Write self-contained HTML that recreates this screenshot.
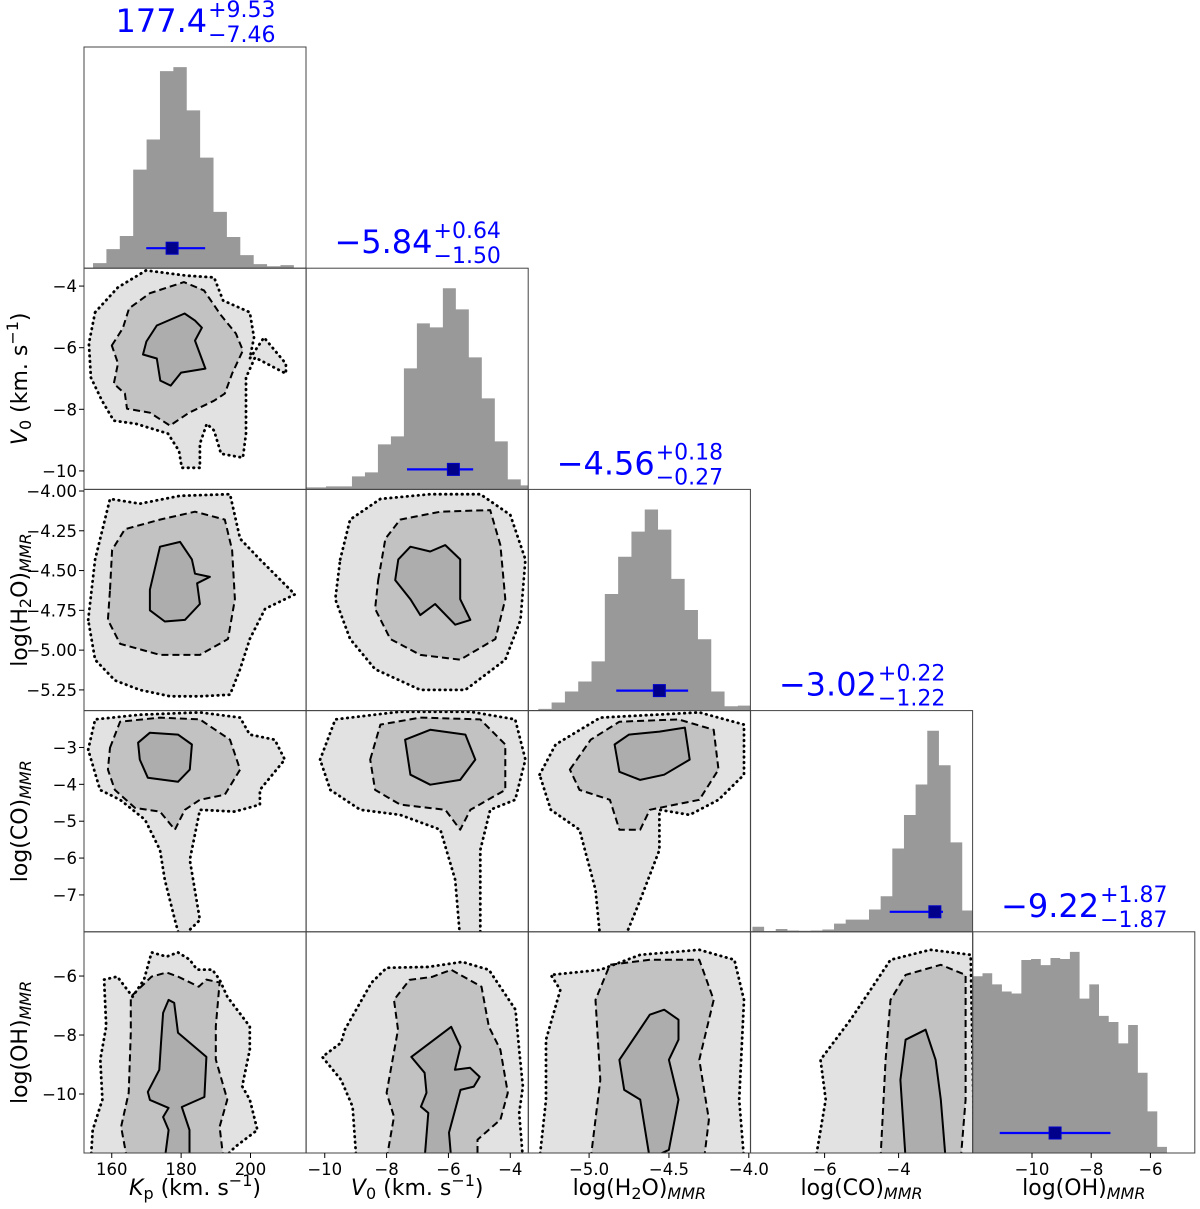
<!DOCTYPE html>
<html><head><meta charset="utf-8"><style>
html,body{margin:0;padding:0;background:#fff;}
svg{display:block;font-family:"DejaVu Sans","Liberation Sans",sans-serif;}
</style></head><body>
<svg id="fig" width="1200" height="1209" viewBox="0 0 1200 1209" xmlns="http://www.w3.org/2000/svg"></svg>
<script>
// ---------- data ----------
const varNames = ["Kp","V0","H2O","CO","OH"];
const rangeKp = [152, 216];
const rangeV0 = [-10.6, -3.42];
const rangeH2O = [-5.38, -3.99];
const rangeCO = [-8, -2];
const rangeOH = [-12, -4.5];

const medians = [177.4, -5.84, -4.56, -3.02, -9.22];
const errPlus = [9.53, 0.64, 0.18, 0.22, 1.87];
const errMinus = [7.46, 1.50, 0.27, 1.22, 1.87];
const titleMain = ["177.4", "\u22125.84", "\u22124.56", "\u22123.02", "\u22129.22"];
const titlePlus = ["+9.53", "+0.64", "+0.18", "+0.22", "+1.87"];
const titleMinus = ["\u22127.46", "\u22121.50", "\u22120.27", "\u22121.22", "\u22121.87"];

const histStart = [154.6, -10.8, -5.318, -7.95, -12.0];
const histWidth = [3.86, 0.42, 0.0833, 0.315, 0.328];
const histKp = [5,19,32,98,128,196,200,157,110,56,31,13,4,2,3];
const histV0 = [2,2,3,3,13,17,45,53,121,166,162,201,180,132,91,48,10,4];
const histH2O = [1.7,8,19,29,49,116,153,178,200,180,131,100,71,19,4.3,5];
const histCO = [5,0.7,2.7,1.3,1,1.3,2.3,8,12,12,22,35,82,115,145,198,164,88,21];
const histOH = [174,177,166,159,157,190,191,185,192,191,198,152,166,135,129,108,126,79,41,6];

const ticksKp = [160,180,200];
const ticksV0 = [-10,-8,-6,-4];
const ticksH2Ox = [-5.0,-4.5,-4.0];
const ticksH2Oy = [-4.00,-4.25,-4.50,-4.75,-5.00,-5.25];
const ticksCOx = [-6,-4];
const ticksCOy = [-3,-4,-5,-6,-7];
const ticksOH = [-10,-8,-6];

// contours [x,y] in data units
const c10Solid = [[169,-6.22],[170,-5.8],[173,-5.28],[181,-4.89],[184,-5.12],[186,-5.35],[184,-5.77],[187,-6.68],[180,-6.81],[177,-7.23],[174,-7.07],[173,-6.35]];
const c10Dashed = [[160,-5.93],[163.2,-5.37],[165,-4.72],[171,-4.23],[180.8,-3.87],[186.6,-4.14],[191.5,-4.95],[195.8,-5.54],[197.8,-6.09],[194.7,-6.84],[192.6,-7.49],[189.5,-7.72],[182.3,-8.11],[176.8,-8.53],[171,-8.11],[164.4,-7.98],[163.8,-7.49],[160.6,-7.17],[161.8,-6.51]];
const c10Dotted = [[155.2,-4.85],[161.8,-4.04],[169.9,-3.49],[181.4,-3.66],[189.5,-3.72],[192.1,-4.47],[199.8,-4.85],[201,-5.67],[199.8,-6.35],[203.9,-5.67],[210.2,-6.52],[210.2,-6.84],[201.3,-6.32],[198.7,-6.97],[198.7,-8.79],[197.8,-9.57],[191.5,-9.44],[189.5,-8.69],[187.4,-8.47],[185.4,-9.12],[185.4,-9.9],[180.2,-9.9],[179.4,-9.35],[176.2,-8.79],[167,-8.47],[160.6,-8.37],[157.2,-7.72],[154,-6.97],[153.4,-5.86]];

const c20Solid = [[171,-4.62],[173.9,-4.35],[179.7,-4.32],[183.1,-4.43],[184,-4.52],[188.3,-4.54],[184.6,-4.58],[185.4,-4.71],[181.1,-4.81],[175.3,-4.82],[171,-4.75]];
const c20Dashed = [[159.5,-4.62],[160.1,-4.37],[163.8,-4.24],[173.9,-4.18],[184,-4.13],[192.6,-4.18],[194.7,-4.37],[195.5,-4.68],[193.5,-4.93],[185.4,-5.03],[173.9,-5.03],[162.4,-4.96],[158.9,-4.81]];
const c20Dotted = [[153.2,-4.81],[155.2,-4.43],[159.5,-4.05],[168.1,-4.08],[179.7,-4.03],[194.1,-4.02],[197,-4.3],[202.7,-4.43],[212.8,-4.65],[204.2,-4.74],[199.8,-4.93],[197,-5.12],[194.1,-5.28],[185.4,-5.29],[176.8,-5.29],[168.1,-5.25],[160.9,-5.19],[155.2,-5.06]];

const c30Solid = [[167.6,-2.87],[171,-2.6],[179.1,-2.65],[183.1,-2.92],[182.5,-3.6],[179.1,-3.93],[170.4,-3.82],[168.1,-3.33]];
const c30Dashed = [[159.5,-3.01],[162.4,-2.3],[173.9,-2.19],[185.4,-2.24],[194.1,-2.79],[197,-3.6],[192.6,-4.28],[185.4,-4.42],[181.1,-4.69],[178.2,-5.23],[173.9,-4.74],[166.7,-4.64],[160.9,-4.15],[158.9,-3.6]];
const c30Dotted = [[153.2,-3.06],[155.2,-2.24],[168.1,-2.11],[185.4,-2.05],[197,-2.19],[199.8,-2.65],[207,-2.79],[209.9,-3.33],[202.7,-4.15],[202.7,-4.55],[195.5,-4.74],[185.4,-4.69],[182.5,-6.05],[185.4,-7.68],[179.7,-8.2],[178.2,-7.68],[175.3,-6.59],[173.9,-5.78],[169.6,-4.96],[162.4,-4.42],[156.6,-4.15]];

const c40Solid = [[176.4,-6.81],[174.8,-7.25],[174.2,-8.27],[173.7,-9.18],[170.4,-9.93],[171,-10.2],[176.4,-10.47],[174.8,-10.78],[176.4,-11.22],[175.3,-12.2],[182.4,-12.2],[182.4,-11.22],[180.2,-10.44],[186.7,-10.1],[187.3,-8.74],[179.1,-7.92],[178,-6.91]];
const c40Dashed = [[164.4,-12.2],[162.7,-11.11],[164.9,-9.96],[165.5,-7.92],[165.5,-6.7],[171.5,-6.02],[175.8,-5.88],[179.1,-6.02],[185.1,-6.36],[187.3,-6.12],[191.1,-6.22],[190,-7.71],[190,-8.83],[193.3,-10.19],[191.1,-11.11],[192.2,-12.2]];
const c40Dotted = [[154,-12.2],[154.5,-11.22],[157.3,-10.19],[156.7,-8.83],[158.4,-7.71],[157.8,-6.12],[161.6,-6.02],[166,-6.7],[169.3,-6.12],[171.5,-5.2],[175.8,-5.34],[179.1,-5.2],[182.4,-5.44],[184.6,-5.78],[189,-5.78],[191.1,-6.12],[193.3,-6.7],[199.8,-7.71],[199.8,-8.49],[197.6,-9.74],[199.8,-10.19],[202,-11.22],[195.5,-11.8],[192.2,-12.2]];

const c21Solid = [[-7.62,-4.43],[-7.23,-4.35],[-6.59,-4.38],[-6.1,-4.34],[-5.62,-4.43],[-5.62,-4.68],[-5.29,-4.81],[-5.78,-4.84],[-6.43,-4.71],[-6.91,-4.78],[-7.23,-4.68],[-7.72,-4.56]];
const c21Dashed = [[-8.27,-4.56],[-8.04,-4.3],[-7.56,-4.18],[-6.26,-4.13],[-4.65,-4.12],[-4.32,-4.34],[-4.16,-4.68],[-4.48,-4.93],[-5.62,-5.06],[-6.91,-5.03],[-7.88,-4.93],[-8.37,-4.74]];
const c21Dotted = [[-9.5,-4.43],[-9.18,-4.18],[-8.2,-4.05],[-6.59,-4.02],[-4.97,-4.02],[-4.0,-4.15],[-3.51,-4.43],[-3.67,-4.81],[-4.16,-5.06],[-5.45,-5.25],[-6.91,-5.25],[-8.37,-5.12],[-9.18,-4.93],[-9.66,-4.68]];

const c31Solid = [[-7.4,-2.79],[-6.59,-2.52],[-5.45,-2.65],[-5.13,-3.33],[-5.62,-3.88],[-6.59,-4.01],[-7.23,-3.74]];
const c31Dashed = [[-8.53,-3.33],[-8.2,-2.38],[-6.91,-2.19],[-4.97,-2.24],[-4.16,-2.92],[-4.16,-4.15],[-5.29,-4.69],[-5.62,-5.23],[-6.1,-4.69],[-7.56,-4.55],[-8.37,-4.15]];
const c31Dotted = [[-10.15,-3.33],[-9.66,-2.24],[-7.56,-2.03],[-5.29,-2.03],[-3.84,-2.24],[-3.51,-3.33],[-3.84,-4.42],[-4.65,-4.69],[-4.97,-5.78],[-4.97,-8.2],[-5.62,-8.2],[-5.78,-6.59],[-6.26,-5.23],[-7.56,-4.83],[-8.85,-4.69],[-9.82,-4.15]];

const c41Solid = [[-7.2,-8.74],[-5.91,-7.72],[-5.61,-8.4],[-5.79,-9.18],[-5.3,-9.11],[-4.99,-9.42],[-5.18,-9.75],[-5.61,-9.86],[-5.98,-11.31],[-5.91,-12.2],[-6.77,-12.2],[-6.65,-10.64],[-6.89,-10.43],[-6.71,-9.96],[-6.77,-9.28]];
const c41Dashed = [[-8.0,-12.2],[-7.76,-10.77],[-8.0,-9.96],[-7.63,-7.82],[-7.76,-6.81],[-7.26,-6.13],[-6.53,-6.03],[-5.91,-5.79],[-4.93,-6.36],[-4.69,-7.72],[-4.32,-8.5],[-4.08,-9.96],[-4.32,-10.87],[-5.06,-11.55],[-5.06,-12.2]];
const c41Dotted = [[-8.98,-12.2],[-9.1,-10.43],[-9.47,-9.52],[-10.08,-8.74],[-9.47,-8.26],[-9.35,-7.82],[-8.49,-6.23],[-8.0,-5.72],[-6.65,-5.69],[-5.55,-5.52],[-4.69,-5.79],[-3.83,-7.14],[-3.71,-8.5],[-3.59,-9.75],[-3.71,-10.64],[-3.59,-12.2]];

const c32Solid = [[-4.84,-2.92],[-4.75,-2.65],[-4.56,-2.57],[-4.4,-2.46],[-4.37,-3.33],[-4.53,-3.74],[-4.68,-3.88],[-4.81,-3.66]];
const c32Dashed = [[-5.12,-3.6],[-4.99,-2.79],[-4.81,-2.3],[-4.44,-2.24],[-4.22,-2.52],[-4.19,-3.6],[-4.31,-4.42],[-4.62,-4.69],[-4.68,-5.23],[-4.81,-5.23],[-4.87,-4.42],[-5.06,-4.15]];
const c32Dotted = [[-5.31,-3.74],[-5.21,-2.92],[-4.93,-2.19],[-4.31,-2.05],[-4.03,-2.38],[-4.03,-3.74],[-4.19,-4.42],[-4.37,-4.83],[-4.56,-4.69],[-4.56,-5.78],[-4.68,-7.14],[-4.78,-8.2],[-4.93,-8.2],[-4.96,-6.86],[-5.06,-5.23],[-5.24,-4.69]];

const c42Solid = [[-4.81,-8.84],[-4.62,-7.31],[-4.53,-7.14],[-4.44,-7.48],[-4.44,-8.16],[-4.5,-8.84],[-4.44,-10.19],[-4.5,-11.89],[-4.62,-12.2],[-4.68,-10.19],[-4.78,-9.86]];
const c42Dashed = [[-4.99,-12.2],[-4.93,-9.52],[-4.96,-6.81],[-4.87,-5.62],[-4.62,-5.45],[-4.31,-5.45],[-4.22,-6.81],[-4.31,-8.84],[-4.25,-10.87],[-4.28,-12.2]];
const c42Dotted = [[-5.31,-12.2],[-5.27,-10.19],[-5.27,-8.16],[-5.18,-6.47],[-5.24,-5.96],[-4.93,-5.79],[-4.68,-5.28],[-4.31,-5.11],[-4.09,-5.45],[-4.03,-6.81],[-4.06,-10.19],[-4.03,-12.2]];

const c43Solid = [[-3.81,-12.2],[-3.95,-9.52],[-3.81,-8.16],[-3.27,-7.82],[-3.0,-8.84],[-2.86,-10.19],[-2.73,-12.2]];
const c43Dashed = [[-4.49,-12.2],[-4.35,-8.84],[-4.22,-6.81],[-3.81,-5.96],[-2.86,-5.62],[-2.19,-5.96],[-2.19,-10.19],[-2.32,-12.2]];
const c43Dotted = [[-6.24,-12.2],[-5.97,-10.19],[-6.11,-8.84],[-5.3,-7.48],[-4.76,-6.47],[-4.22,-5.45],[-3.14,-5.11],[-2.05,-5.28],[-1.95,-12.2]];

// ---------- drawing ----------
const NS = "http://www.w3.org/2000/svg";
const svg = document.getElementById("fig");
const ranges = [rangeKp, rangeV0, rangeH2O, rangeCO, rangeOH];
const hists = [histKp, histV0, histH2O, histCO, histOH];
const W = 222, H = 221.2;
function colX(i){ return 84 + i*222.2; }
function rowY(j){ return 47 + j*221.2; }
function sx(i, v){ const r = ranges[i]; return colX(i) + (v - r[0])/(r[1]-r[0])*W; }
function sy(j, v){ const r = ranges[j]; return rowY(j) + H - (v - r[0])/(r[1]-r[0])*H; }
function mk(tag, attrs, parent){
  const e = document.createElementNS(NS, tag);
  for (const k in attrs) e.setAttribute(k, attrs[k]);
  (parent || svg).appendChild(e);
  return e;
}
const defs = mk("defs", {});

const contours = {
  "0,1": [c10Solid, c10Dashed, c10Dotted],
  "0,2": [c20Solid, c20Dashed, c20Dotted],
  "0,3": [c30Solid, c30Dashed, c30Dotted],
  "0,4": [c40Solid, c40Dashed, c40Dotted],
  "1,2": [c21Solid, c21Dashed, c21Dotted],
  "1,3": [c31Solid, c31Dashed, c31Dotted],
  "1,4": [c41Solid, c41Dashed, c41Dotted],
  "2,3": [c32Solid, c32Dashed, c32Dotted],
  "2,4": [c42Solid, c42Dashed, c42Dotted],
  "3,4": [c43Solid, c43Dashed, c43Dotted]
};

for (let j = 0; j < 5; j++) {
  for (let i = 0; i <= j; i++) {
    const x0 = colX(i), y0 = rowY(j);
    const cp = mk("clipPath", {id: "cp" + i + j}, defs);
    mk("rect", {x: x0, y: y0, width: W, height: H}, cp);
    const g = mk("g", {"clip-path": "url(#cp" + i + j + ")"});
    if (i === j) {
      
      
      const counts = hists[i];
      const ymax = Math.max(...counts) * 1.1;
      let d = "M" + sx(i, histStart[i]) + "," + (y0 + H);
      counts.forEach((c, k) => {
        const xa = sx(i, histStart[i] + k*histWidth[i]);
        const xb = sx(i, histStart[i] + (k+1)*histWidth[i]);
        const yy = y0 + H - c/ymax*H;
        d += " L" + xa + "," + yy + " L" + xb + "," + yy;
      });
      d += " L" + sx(i, histStart[i] + counts.length*histWidth[i]) + "," + (y0 + H) + " Z";
      const p = mk("path", {d: d, fill: "#999999", stroke: "none"}, g);
      
      
      const ey = y0 + H - 20;
      const eb = mk("line", {x1: sx(i, medians[i]-errMinus[i]), x2: sx(i, medians[i]+errPlus[i]), y1: ey, y2: ey, stroke: "#0000ff", "stroke-width": 2.2}, g);
      
      
      const m = mk("rect", {x: sx(i, medians[i]) - 6, y: ey - 6, width: 12, height: 12, fill: "#00008b", stroke: "#0000cc", "stroke-width": 1}, g);
      
      
    } else {
      
      
      const set = contours[i + "," + j];
      const toD = pts => pts.map((p, k) => (k ? "L" : "M") + sx(i, p[0]).toFixed(1) + "," + sy(j, p[1]).toFixed(1)).join(" ") + " Z";
      const fills = ["#adadad", "#c2c2c2", "#e2e2e2"];
      [2, 1, 0].forEach(k => {
        const f = mk("path", {d: toD(set[k]), fill: fills[k], stroke: "none"}, g);
        
        
      });
      const styles = [
        {"stroke-width": 2},
        {"stroke-width": 2, "stroke-dasharray": "7,4"},
        {"stroke-width": 2.8, "stroke-dasharray": "0.5,5", "stroke-linecap": "round"}
      ];
      const names = ["contour-1sigma", "contour-2sigma", "contour-3sigma"];
      [0, 1, 2].forEach(k => {
        const a = Object.assign({d: toD(set[k]), fill: "none", stroke: "#000", "stroke-linejoin": "round"}, styles[k]);
        const c = mk("path", a, g);
        
        
      });
    }
    const fr = mk("rect", {x: x0, y: y0, width: W, height: H, fill: "none", stroke: "#444", "stroke-width": 1});
    
    
  }
}

// ---------- titles ----------
for (let i = 0; i < 5; i++) {
  const cx = colX(i) + W/2, top = rowY(i);
  const g = mk("g", {fill: "#0000ff"});
  
  
  const tm = mk("text", {y: top - 15, "font-size": 32}, g);
  tm.textContent = titleMain[i];
  const tp = mk("text", {y: top - 30, "font-size": 22}, g);
  tp.textContent = titlePlus[i];
  const tn = mk("text", {y: top - 5, "font-size": 22}, g);
  tn.textContent = titleMinus[i];
  const wm = tm.getComputedTextLength();
  const ws = Math.max(tp.getComputedTextLength(), tn.getComputedTextLength());
  const start = cx - (wm + ws)/2;
  tm.setAttribute("x", start);
  tp.setAttribute("x", start + wm + 1);
  tn.setAttribute("x", start + wm + 1);
}

// ---------- ticks ----------
function fmt(v, dec){ return (v < 0 ? "\u2212" : "") + Math.abs(v).toFixed(dec); }
const xTicks = [ticksKp, ticksV0, ticksH2Ox, ticksCOx, ticksOH];
const xDec = [0, 0, 1, 0, 0];
const yTicks = [null, ticksV0, ticksH2Oy, ticksCOy, ticksOH];
const yDec = [0, 0, 2, 0, 0];
const bottom = rowY(4) + H;
for (let i = 0; i < 5; i++) {
  xTicks[i].forEach(v => {
    const x = sx(i, v);
    mk("line", {x1: x, x2: x, y1: bottom, y2: bottom + 5, stroke: "#000", "stroke-width": 1});
    const t = mk("text", {x: x, y: bottom + 22, "font-size": 16.5, "text-anchor": "middle", fill: "#000"});
    
    
    t.textContent = fmt(v, xDec[i]);
  });
}
for (let j = 1; j < 5; j++) {
  yTicks[j].forEach(v => {
    const y = sy(j, v);
    mk("line", {x1: 79, x2: 84, y1: y, y2: y, stroke: "#000", "stroke-width": 1});
    const t = mk("text", {x: 77, y: y + 6, "font-size": 16.5, "text-anchor": "end", fill: "#000"});
    
    
    t.textContent = fmt(v, yDec[j]);
  });
}

// ---------- axis labels ----------
const labKp = [["K","i"],["p","sub"],[" (km. s",""],["\u22121","sup"],[")",""]];
const labV0 = [["V","i"],["0","sub"],[" (km. s",""],["\u22121","sup"],[")",""]];
const labH2O = [["log(H",""],["2","sub"],["O)",""],["MMR","subi"]];
const labCO = [["log(CO)",""],["MMR","subi"]];
const labOH = [["log(OH)",""],["MMR","subi"]];
const labels = [labKp, labV0, labH2O, labCO, labOH];
function buildLabel(t, segs){
  let cur = 0;
  segs.forEach(s => {
    const ts = mk("tspan", {}, t);
    let target = 0;
    if (s[1] === "sub" || s[1] === "subi") { target = 4; ts.setAttribute("font-size", 16); }
    if (s[1] === "sup") { target = -9; ts.setAttribute("font-size", 16); }
    if (s[1] === "i" || s[1] === "subi") ts.setAttribute("font-style", "italic");
    if (target !== cur) ts.setAttribute("dy", target - cur);
    cur = target;
    ts.textContent = s[0];
  });
}
for (let i = 0; i < 5; i++) {
  const t = mk("text", {x: colX(i) + W/2, y: 1195, "font-size": 22, "text-anchor": "middle", fill: "#000"});
  
  
  buildLabel(t, labels[i]);
}
for (let j = 1; j < 5; j++) {
  const cy = rowY(j) + H/2;
  const t = mk("text", {x: 0, y: 0, "font-size": 22, "text-anchor": "middle", fill: "#000", transform: "translate(27," + cy + ") rotate(-90)"});
  
  
  buildLabel(t, labels[j]);
}
</script>
</body></html>
